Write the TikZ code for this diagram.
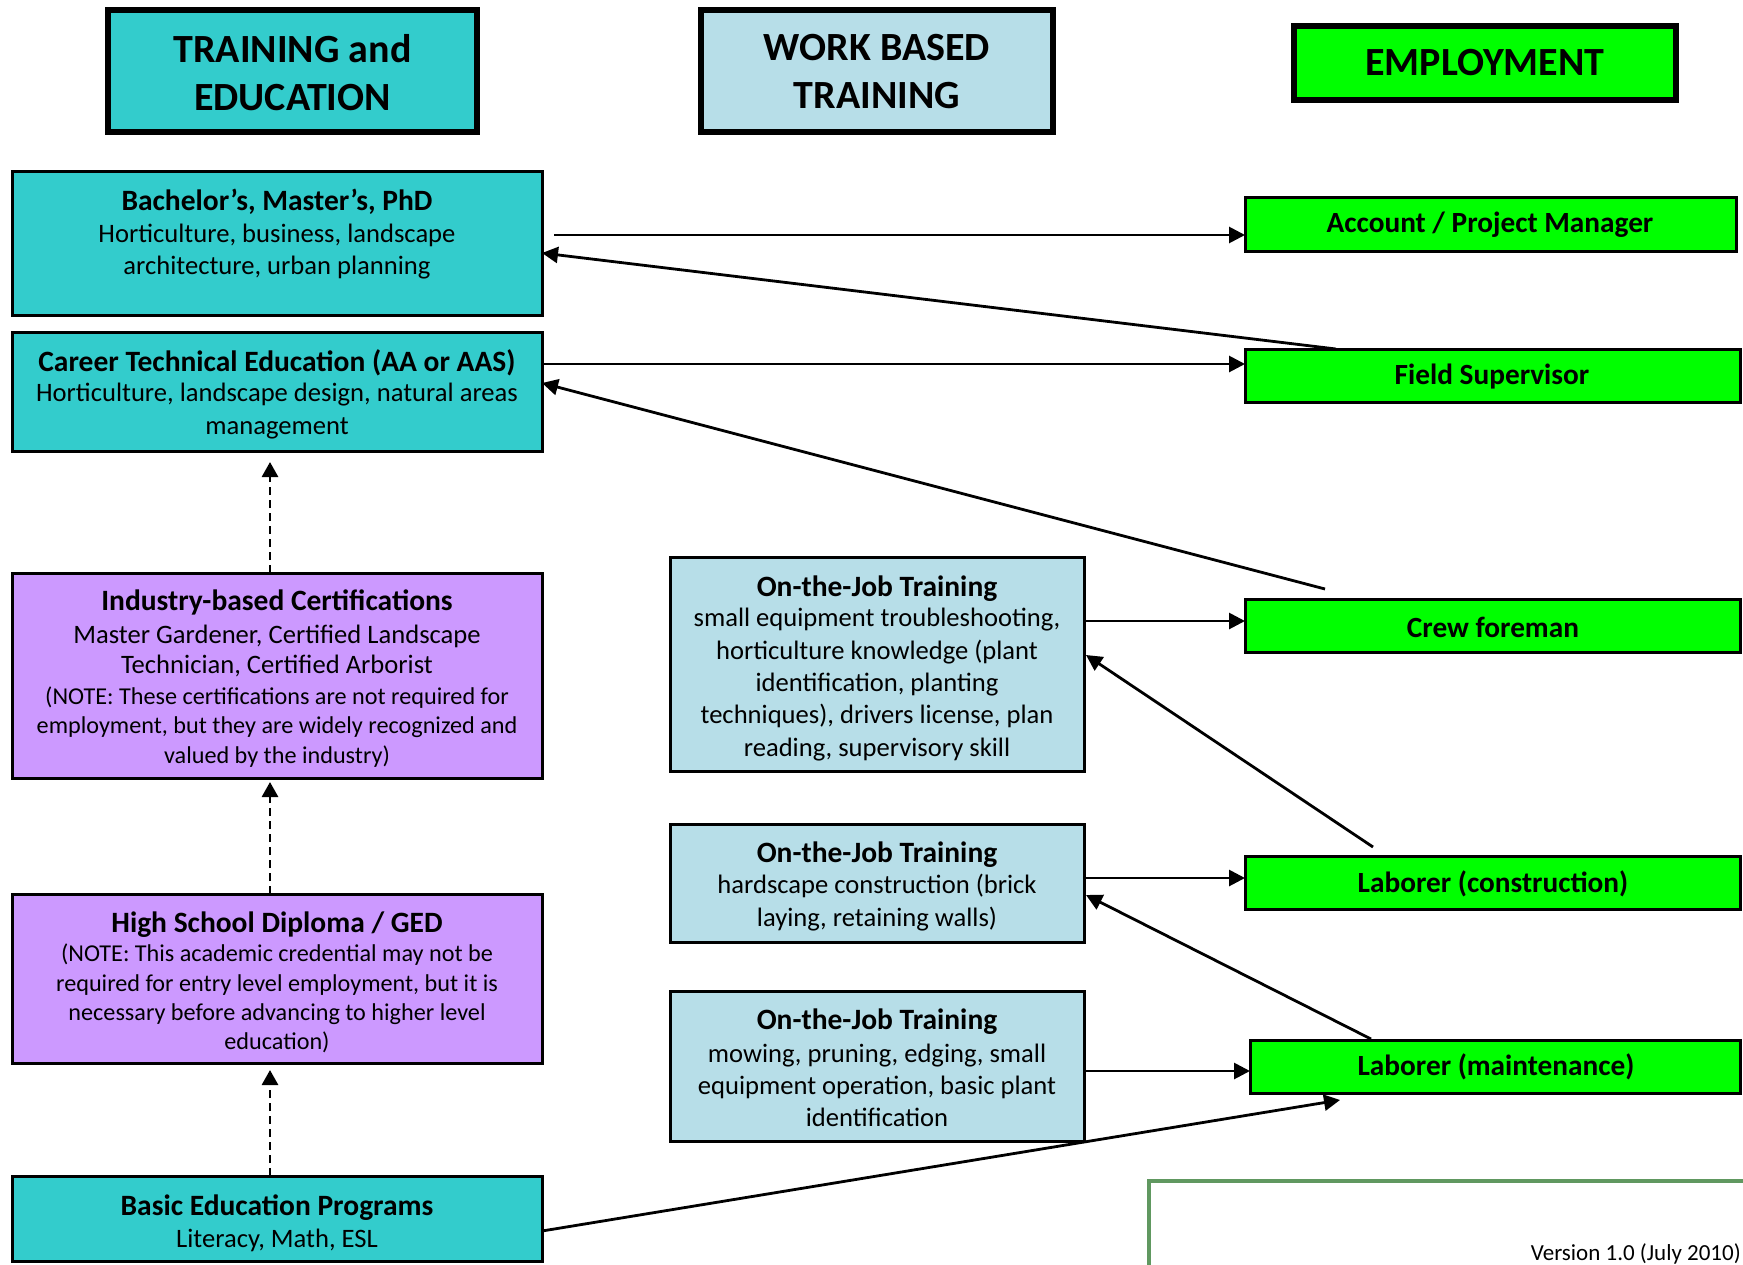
\documentclass[tikz,border=0pt]{standalone}
\usepackage{fontspec}
\setmainfont{Carlito}
\usetikzlibrary{arrows.meta}
\definecolor{tealfill}{HTML}{33CCCC}
\definecolor{wbfill}{HTML}{B7DEE8}
\definecolor{empfill}{HTML}{00FF00}
\definecolor{certfill}{HTML}{CC99FF}
\definecolor{frameGreen}{RGB}{96,152,96}
\tikzset{
  box/.style={draw=black, line width=3pt, inner sep=0pt, outer sep=0pt},
  hdbox/.style={draw=black, line width=6pt, inner sep=0pt, outer sep=0pt},
  hdtxt/.style={align=center, inner sep=0pt, font=\fontsize{40}{48}\selectfont\bfseries},
  ttl/.style={inner sep=0pt, font=\fontsize{29.5}{32}\selectfont\bfseries},
  bodytxt/.style={align=center, inner sep=0pt, font=\fontsize{26.6}{#1}\selectfont},
  bodytxt/.default=32.5,
  notetxt/.style={align=center, inner sep=0pt, font=\fontsize{24.2}{29.2}\selectfont},
  emptxt/.style={inner sep=0pt, font=\fontsize{29.3}{32}\selectfont\bfseries},
  arr/.style={line width=2.8pt, -{Triangle[length=16pt,width=16pt]}},
  dasharr/.style={line width=2.8pt, dash pattern=on 8pt off 5pt, -{Triangle[length=15pt,width=16pt]}},
}
\begin{document}
\begin{tikzpicture}[x=1pt,y=-1pt]
\useasboundingbox (0,0) rectangle (1743,1264);
\fill[white] (0,0) rectangle (1743,1264);

% column headers
\node[hdbox, fill=tealfill, minimum width=369pt, minimum height=122pt] (hdTE) at (292.5,71) {};
\node[hdtxt] (hdTEt) at (292.5,72.5) {TRAINING and\\EDUCATION};
\node[hdbox, fill=wbfill, minimum width=352pt, minimum height=122pt] (hdWB) at (877,71) {};
\node[hdtxt] (hdWBt) at (877,72) {WORK BASED\\TRAINING};
\node[hdbox, fill=empfill, minimum width=382pt, minimum height=74pt] (hdEM) at (1485,63) {};
\node[hdtxt] (hdEMt) at (1485,63) {EMPLOYMENT};

% training and education column
\node[box, fill=tealfill, minimum width=530pt, minimum height=144pt] (bach) at (277,243) {};
\node[ttl] (bacht) at (277,202) {Bachelor’s, Master’s, PhD};
\node[bodytxt] (bachb) at (277,251.5) {Horticulture, business, landscape\\architecture, urban planning};

\node[box, fill=tealfill, minimum width=530pt, minimum height=119pt] (cte) at (277,391.5) {};
\node[ttl] (ctet) at (277,362.5) {Career Technical Education (AA or AAS)};
\node[bodytxt] (cteb) at (277,411) {Horticulture, landscape design, natural areas\\management};

\node[box, fill=certfill, minimum width=530pt, minimum height=205pt] (ind) at (277,675.5) {};
\node[ttl] (indt) at (277,602.5) {Industry-based Certifications};
\node[bodytxt=30] (indb) at (277,651) {Master Gardener, Certified Landscape\\Technician, Certified Arborist};
\node[notetxt] (indn) at (277,727) {(NOTE: These certifications are not required for\\employment, but they are widely recognized and\\valued by the industry)};

\node[box, fill=certfill, minimum width=530pt, minimum height=169pt] (hs) at (277,978.5) {};
\node[ttl] (hst) at (277,924.5) {High School Diploma / GED};
\node[notetxt] (hsn) at (277,998.5) {(NOTE: This academic credential may not be\\required for entry level employment, but it is\\necessary before advancing to higher level\\education)};

\node[box, fill=tealfill, minimum width=530pt, minimum height=85pt] (basic) at (277,1218.5) {};
\node[ttl] (basict) at (277,1207.5) {Basic Education Programs};
\node[bodytxt] (basicb) at (277,1240) {Literacy, Math, ESL};

% work based training column
\node[box, fill=wbfill, minimum width=414pt, minimum height=214pt] (ojt1) at (877,664) {};
\node[ttl] (ojt1t) at (877,588.5) {On-the-Job Training};
\node[bodytxt=32.3] (ojt1b) at (877,684.5) {small equipment troubleshooting,\\horticulture knowledge (plant\\identification, planting\\techniques), drivers license, plan\\reading, supervisory skill};
\node[box, fill=wbfill, minimum width=414pt, minimum height=118pt] (ojt2) at (877,883) {};
\node[ttl] (ojt2t) at (877,855) {On-the-Job Training};
\node[bodytxt=33] (ojt2b) at (877,903) {hardscape construction (brick\\laying, retaining walls)};
\node[box, fill=wbfill, minimum width=414pt, minimum height=150pt] (ojt3) at (877,1066) {};
\node[ttl] (ojt3t) at (877,1022) {On-the-Job Training};
\node[bodytxt=32] (ojt3b) at (877,1085.5) {mowing, pruning, edging, small\\equipment operation, basic plant\\identification};

% employment column
\node[box, fill=empfill, minimum width=491pt, minimum height=54pt] (acct) at (1490.5,224) {};
\node[emptxt] (acctt) at (1490,225) {Account / Project Manager};
\node[box, fill=empfill, minimum width=495pt, minimum height=53pt] (field) at (1492.5,375.5) {};
\node[emptxt] (fieldt) at (1492,377) {Field Supervisor};
\node[box, fill=empfill, minimum width=495pt, minimum height=53pt] (crew) at (1492.5,625.5) {};
\node[emptxt] (crewt) at (1493,627) {Crew foreman};
\node[box, fill=empfill, minimum width=495pt, minimum height=53pt] (labc) at (1492.5,882.5) {};
\node[emptxt] (labct) at (1493,884) {Laborer (construction)};
\node[box, fill=empfill, minimum width=490pt, minimum height=53pt] (labm) at (1495,1066.5) {};
\node[emptxt] (labmt) at (1496,1067) {Laborer (maintenance)};

% note frame and version
\node[draw=frameGreen, line width=4pt, inner sep=0pt, minimum width=640pt, minimum height=140pt] (note) at (1469,1251) {};
\node[anchor=base east, inner sep=0pt, font=\fontsize{23}{28}\selectfont] (ver) at (1741,1260) {Version 1.0 (July 2010)};

% progression arrows
\draw[arr] ([xshift=12pt]bach.east |- 0,235) -- (acct.west |- 0,235);
\draw[arr] (field.north -| 1336,0) -- (bach.east |- 0,253);
\draw[arr] (cte.east |- 0,364) -- (field.west |- 0,364);
\draw[arr] ([yshift=10pt]crew.north -| 1325,0) -- (cte.east |- 0,383);
\draw[arr] (ojt1.east |- 0,621) -- (crew.west |- 0,621);
\draw[arr] ([yshift=9pt]labc.north -| 1373,0) -- ([xshift=2pt]ojt1.east |- 0,655);
\draw[arr] (ojt2.east |- 0,878) -- (labc.west |- 0,878);
\draw[arr] ([yshift=1pt]labm.north -| 1371,0) -- ([xshift=2pt]ojt2.east |- 0,895);
\draw[arr] (ojt3.east |- 0,1071) -- (labm.west |- 0,1071);
\draw[arr] (basic.east |- 0,1231) -- ([yshift=-7pt]labm.south -| 1340,0);

% dashed progression within education
\draw[dasharr] (ind.north -| 270,0) -- ([yshift=-11pt]cte.south -| 270,0);
\draw[dasharr] (hs.north -| 270,0) -- ([yshift=-4pt]ind.south -| 270,0);
\draw[dasharr] (basic.north -| 270,0) -- ([yshift=-7pt]hs.south -| 270,0);
\end{tikzpicture}
\end{document}
